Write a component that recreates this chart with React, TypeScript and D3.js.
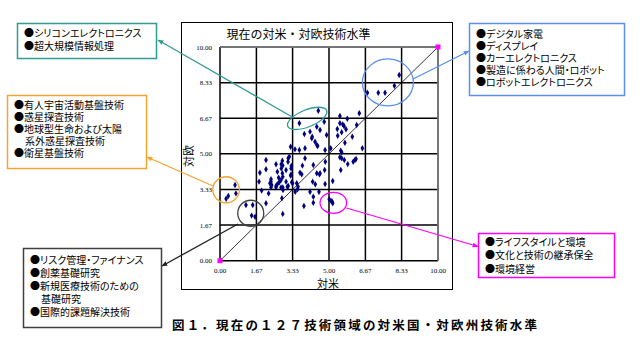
import React from 'react';
import * as d3 from 'd3';

// 対米 (x) / 対欧 (y) levels of the 127 technology fields
const usLevel = [
  8.22, 8.0, 7.57, 7.26, 6.76, 4.51, 3.64, 5.5, 6.39, 5.84, 4.78, 5.5, 5.63, 5.69, 5.78, 4.44, 4.59, 5.38, 3.87, 4.13,
  4.89, 6.27, 5.58, 5.4, 4.21, 6.07, 4.36, 4.44, 4.48, 3.24, 3.44, 3.64, 3.9, 5.73, 5.08, 4.82, 6.53, 5.58, 2.11, 2.57,
  2.81, 2.88, 3.13, 3.18, 2.11, 1.83, 2.63, 2.86, 2.88, 2.69, 3.03, 3.26, 3.26, 3.24, 3.29, 3.33, 2.8, 2.72, 2.63, 2.57,
  2.34, 2.34, 2.29, 2.37, 2.34, 1.79, 1.91, 3.03, 3.09, 3.13, 2.57, 2.8, 2.88, 3.52, 3.67, 3.75, 3.78, 3.9, 4.28, 4.44,
  4.56, 4.59, 4.25, 4.82, 5.17, 5.5, 5.58, 5.7, 5.86, 6.11, 6.19, 6.24, 5.54, 3.56, 3.45, 4.13, 4.54, 4.28, 4.28, 3.85,
  2.88, 2.11, 5.01, 5.09, 5.15, 5.17, 0.69, 0.73, 0.38, 0.28, 1.19, 1.5, 1.45, 1.61, 2.86, 3.12, 3.27, 2.81, 2.23, 2.89,
  3.58, 2.84, 4.8, 4.83, 4.37, 4.23, 5.54,
];
const euLevel = [
  8.69, 8.19, 7.86, 7.86, 7.86, 7.02, 6.43, 6.77, 6.9, 6.64, 6.5, 6.43, 6.38, 6.3, 6.15, 6.27, 6.12, 6.16, 5.93, 6.04,
  5.88, 6.35, 6.01, 5.85, 5.73, 5.8, 5.57, 5.41, 5.37, 5.33, 5.21, 5.18, 5.26, 5.52, 5.26, 5.18, 5.26, 5.07, 4.71, 4.51,
  4.51, 4.45, 4.79, 4.87, 4.28, 4.12, 4.16, 4.09, 3.93, 3.88, 4.24, 4.32, 4.04, 3.98, 3.67, 3.62, 3.78, 3.67, 3.58, 3.5,
  3.81, 3.7, 3.62, 3.54, 3.43, 3.7, 3.28, 3.7, 3.46, 3.5, 3.43, 3.43, 3.43, 3.62, 4.12, 4.04, 4.45, 4.79, 4.48, 4.09,
  4.04, 4.09, 3.7, 3.59, 3.73, 4.84, 4.79, 4.71, 4.52, 4.63, 4.71, 4.76, 4.24, 3.34, 3.23, 3.23, 3.23, 2.99, 2.71, 2.56,
  2.19, 2.69, 2.87, 2.81, 2.76, 2.69, 3.54, 3.15, 3.03, 2.9, 2.61, 2.61, 2.11, 2.06, 4.68, 4.63, 4.43, 4.32, 3.15, 3.31,
  3.46, 2.92, 4.24, 4.63, 3.58, 5.8, 5.15,
];
const tickValues = [0, 1.67, 3.33, 5, 6.67, 8.33, 10];

const tealItems = ['シリコンエレクトロニクス', '超大規模情報処理'];
const orangeItems = ['有人宇宙活動基盤技術', '惑星探査技術', '地球型生命および太陽', '系外惑星探査技術', '衛星基盤技術'];
const blackItems = ['リスク管理・ファイナンス', '創薬基礎研究', '新規医療技術のための', '基礎研究', '国際的課題解決技術'];
const blueItems = ['デジタル家電', 'ディスプレイ', 'カーエレクトロニクス', '製造に係わる人間・ロボット', 'ロボットエレクトロニクス'];
const pinkItems = ['ライフスタイルと環境', '文化と技術の継承保全', '環境経営'];
// groups circled on the chart: centre (対米, 対欧)
const groupCentres = [
  [4.0, 6.66],
  [0.28, 3.32],
  [1.41, 2.22],
  [7.7, 8.34],
  [5.2, 2.71],
];

const JP = '"Noto Sans CJK JP", sans-serif';

const App: React.FC = () => {
  const x = d3.scaleLinear().domain([0, 10]).range([220, 438]);
  const y = d3.scaleLinear().domain([0, 10]).range([260.7, 47]);
  const fmt = d3.format('.2f');
  const marker = d3.symbol(d3.symbolDiamond, 12)()!;

  const boxes = [
    { items: tealItems, color: '#2f9c95', x: 17, y: 23, w: 139, h: 35, top: 37, step: 12.5, ellipse: [21, 8.5, -22], from: [294, 118], to: [158, 40] },
    { items: orangeItems, color: '#f5a430', x: 7, y: 95, w: 139, h: 73, top: 108.5, step: 12, ellipse: [13.3, 13, 0], from: [213, 186], to: [147, 157] },
    { items: blackItems, color: '#404040', x: 23, y: 248, w: 138, h: 79, top: 263.5, step: 13.2, ellipse: [13, 13, 0], from: [238, 224], to: [162, 266] },
    { items: blueItems, color: '#5b8ff0', x: 469, y: 23, w: 155, h: 72, top: 37.5, step: 12, ellipse: [25.5, 23.5, 0], from: [413, 79], to: [469, 51] },
    { items: pinkItems, color: '#ff00ff', x: 478, y: 233, w: 136, h: 44, top: 245.5, step: 13.5, ellipse: [13.3, 10.5, 0], from: [346.5, 208], to: [478, 246.5] },
  ];
  const lineColors = ['#2f9c95', '#f5a430', '#202020', '#5b8ff0', '#ff00ff'];

  return (
    <svg width={643} height={353} style={{ position: 'absolute', left: 0, top: 0, background: '#fff' }}>
      <defs>
        {lineColors.map((c, i) => (
          <marker key={i} id={`arr${i}`} viewBox="0 0 10 10" refX={9} refY={5} markerWidth={6} markerHeight={6} orient="auto-start-reverse" markerUnits="userSpaceOnUse">
            <path d="M0,1 L10,5 L0,9 z" fill={c} />
          </marker>
        ))}
      </defs>

      {/* chart frame */}
      <rect x={181.5} y={22.5} width={271} height={267} fill="none" stroke="#000" strokeWidth={1} />
      <text x={298.5} y={38.5} textAnchor="middle" fontFamily={JP} fontSize={12}>
        現在の対米・対欧技術水準
      </text>

      {/* grid */}
      {tickValues.map(t => (
        <g key={t}>
          <line x1={x(t)} x2={x(t)} y1={y(0)} y2={y(10)} stroke="#000" strokeWidth={1.5} />
          <line x1={x(0)} x2={x(10)} y1={y(t)} y2={y(t)} stroke="#000" strokeWidth={1.5} />
          <text x={x(t)} y={273} textAnchor="middle" fontFamily="Liberation Serif" fontSize={7}>
            {fmt(t)}
          </text>
          <text x={212} y={y(t) + 2.5} textAnchor="end" fontFamily="Liberation Serif" fontSize={7}>
            {fmt(t)}
          </text>
        </g>
      ))}
      <line x1={x(10)} x2={x(10)} y1={y(0)} y2={y(10)} stroke="#888" strokeWidth={1.5} />
      <line x1={x(0)} x2={x(10)} y1={y(10)} y2={y(10)} stroke="#888" strokeWidth={1.5} />
      <line x1={x(0)} y1={y(0)} x2={x(10)} y2={y(10)} stroke="#000" strokeWidth={0.8} />
      <rect x={x(0) - 2.5} y={y(0) - 2.5} width={5} height={5} fill="#ff00ff" />
      <rect x={x(10) - 2.5} y={y(10) - 2.5} width={5} height={5} fill="#ff00ff" />

      <text x={328} y={288} textAnchor="middle" fontFamily={JP} fontSize={11}>
        対米
      </text>
      <text transform="translate(193,156) rotate(-90)" textAnchor="middle" fontFamily={JP} fontSize={11}>
        対欧
      </text>

      {usLevel.map((v, i) => (
        <path key={i} d={marker} transform={`translate(${x(v)},${y(euLevel[i])})`} fill="#000080" />
      ))}

      {/* callouts */}
      {boxes.map((b, i) => {
        const [cx, cy] = groupCentres[i];
        const [rx, ry, rot] = b.ellipse;
        return (
          <g key={i}>
            <ellipse cx={x(cx)} cy={y(cy)} rx={rx} ry={ry} transform={`rotate(${rot},${x(cx)},${y(cy)})`} fill="none" stroke={b.color} strokeWidth={1.3} />
            <line x1={b.from[0]} y1={b.from[1]} x2={b.to[0]} y2={b.to[1]} stroke={lineColors[i]} strokeWidth={1.3} markerEnd={`url(#arr${i})`} />
            <rect x={b.x + 0.5} y={b.y + 0.5} width={b.w} height={b.h} fill="#fff" stroke={b.color} strokeWidth={1.5} />
            {b.items.map((t, j) => {
              const cont = (i === 1 && j === 3) || (i === 2 && j === 3);
              return (
                <text key={j} x={b.x + (cont ? 18 : 7)} y={b.top + j * b.step} fontFamily={JP} fontSize={10} style={{ fontFeatureSettings: '"palt"' }}>
                  {cont ? t : `●${t}`}
                </text>
              );
            })}
          </g>
        );
      })}

      <text x={172} y={330} fontFamily={JP} fontWeight="bold" fontSize={12.5} textLength={365} lengthAdjust="spacing">
        図１．現在の１２７技術領域の対米国・対欧州技術水準
      </text>
    </svg>
  );
};

export default App;
